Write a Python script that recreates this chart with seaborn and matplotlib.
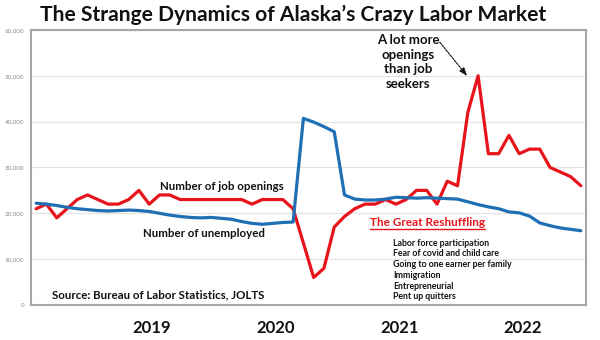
import matplotlib
matplotlib.use("Agg")
import matplotlib.pyplot as plt
from matplotlib.lines import Line2D
import seaborn as sns
import pandas as pd
import numpy as np

# ---- data (monthly) ----
months = list(range(54))
job_openings = [21000, 22000, 19000, 21000, 23000, 24000, 23000, 22000, 22000, 23000,
                25000, 22000, 24000, 24000, 23000, 23000, 23000, 23000, 23000, 23000,
                23000, 22000, 23000, 23000, 23000, 21000, 13500, 6000, 8000, 17000,
                19300, 21000, 22000, 22000, 23000, 22000, 23000, 25000, 25000, 22000,
                27000, 26000, 42000, 50000, 33000, 33000, 37000, 33000, 34000, 34000,
                30000, 29000, 28000, 26000]
unemployed = [22200, 22000, 21700, 21300, 21000, 20800, 20600, 20500, 20600, 20700,
              20600, 20400, 20000, 19600, 19300, 19100, 19000, 19100, 18900, 18700,
              18200, 17800, 17600, 17800, 18000, 18100, 40700, 39900, 38900, 37800,
              24000, 23100, 22900, 22900, 23100, 23500, 23400, 23300, 23400, 23300,
              23200, 23100, 22500, 21900, 21400, 21000, 20300, 20100, 19400, 17900,
              17300, 16800, 16500, 16200]
year_labels = ["2019", "2020", "2021", "2022"]
year_label_pos = [11.2, 23.3, 35.4, 47.3]
y_ticks = [0, 10000, 20000, 30000, 40000, 50000, 60000]
reasons = ["Labor force participation", "Fear of covid and child care",
           "Going to one earner per family", "Immigration",
           "Entrepreneurial", "Pent up quitters"]

RED = "#e8141b"
BLUE = "#1f6fb4"

sns.set_theme(style="white")
plt.rcParams['font.family'] = ['Lato', 'DejaVu Sans']

fig = plt.figure(figsize=(6, 3.4), dpi=100)
fig.patch.set_facecolor("white")
ax = fig.add_axes([0.0517, 0.103, 0.925, 0.809])

df = pd.DataFrame({"month": months, "Job openings": job_openings, "Unemployed": unemployed})
sns.lineplot(data=df, x="month", y="Job openings", color=RED, lw=2.3, ax=ax)
sns.lineplot(data=df, x="month", y="Unemployed", color=BLUE, lw=2.3, ax=ax)

ax.set_xlim(-0.5, 53.5)
ax.set_ylim(0, 60000)
ax.set_xlabel("")
ax.set_ylabel("")

# y axis
ax.set_yticks(y_ticks)
ax.set_yticklabels([f"{v:,}" for v in y_ticks], fontsize=4.5, color="#8c8c8c")
ax.tick_params(axis="y", length=0, pad=5)
ax.yaxis.grid(True, color="#e3e3e3", lw=0.9)
ax.xaxis.grid(False)

# x axis
ax.set_xticks(year_label_pos)
ax.set_xticklabels(year_labels, fontsize=12, fontweight="bold", color="#111111")
ax.tick_params(axis="x", which="major", length=0, pad=11)
ax.set_xticks(np.arange(-0.5, 54, 1), minor=True)
ax.tick_params(axis="x", which="minor", length=4, width=0.6, color="#c8c8c8", direction="out")

for s in ax.spines.values():
    s.set_color("#a6a6a6")
    s.set_linewidth(1.5)
    s.set_visible(True)

# title
fig.text(0.488, 0.957, "The Strange Dynamics of Alaska\u2019s Crazy Labor Market",
         ha="center", va="center", fontsize=15.1, fontweight="bold", color="#111111")

# annotations
ax.text(12.06, 25750, "Number of job openings", ha="left", va="center",
        fontsize=8.3, fontweight="bold", color="#111111")
ax.text(10.4, 15700, "Number of unemployed", ha="left", va="center",
        fontsize=8.3, fontweight="bold", color="#111111")
ax.text(1.56, 2180, "Source: Bureau of Labor Statistics, JOLTS", ha="left", va="center",
        fontsize=8.3, fontweight="bold", color="#111111")
t_rs = ax.text(32.5, 18100, "The Great Reshuffling", ha="left", va="center",
               fontsize=8.5, fontweight="bold", color=RED)
ax.text(34.7, 14500, "\n".join(reasons), ha="left", va="top",
        fontsize=6.3, fontweight="bold", color="#111111", linespacing=1.25)
ax.text(36.2, 53000, "A lot more\nopenings\nthan job\nseekers", ha="center", va="center",
        multialignment="center", fontsize=9.5, fontweight="bold", color="#111111",
        linespacing=1.24)
ax.annotate("", xy=(42.1, 49500), xytext=(39.1, 57800),
            arrowprops=dict(arrowstyle="-|>,head_length=0.4,head_width=0.15",
                            color="#111111", lw=0.8, linestyle=(0, (2, 1))))

# underline for "The Great Reshuffling"
fig.canvas.draw()
bb = t_rs.get_window_extent()
W, H = fig.get_size_inches() * fig.dpi
yline = (bb.y0 - 1) / H
fig.add_artist(Line2D([bb.x0 / W, bb.x1 / W], [yline, yline], color=RED, lw=1.0))

fig.savefig("out.png", dpi=100)
